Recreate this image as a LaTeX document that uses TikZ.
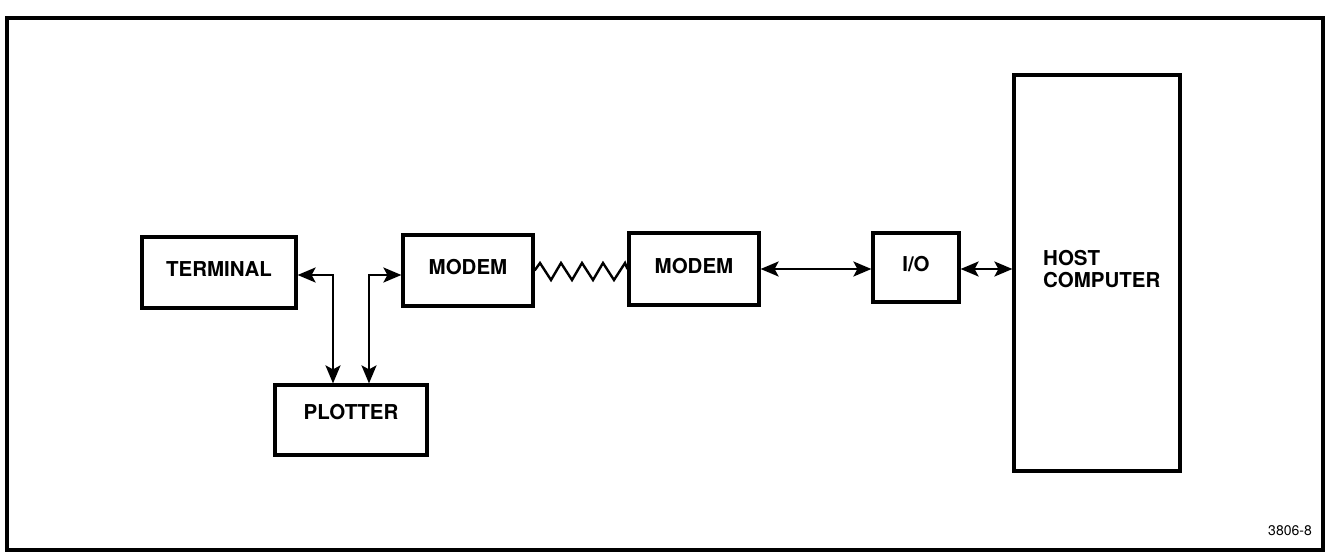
\documentclass[tikz,border=0pt]{standalone}
\usepackage{fontspec}
\setmainfont{TeX Gyre Heros}
\usetikzlibrary{arrows.meta,calc}
\begin{document}
\begin{tikzpicture}[x=1pt,y=-1pt,
  blk/.style={draw,line width=3.2pt,inner sep=0pt,font=\fontsize{20.5}{22}\selectfont\bfseries,text depth=7pt},
  tip/.style={Stealth[length=18pt,width=15pt,inset=4pt]},
  biarrow/.style={line width=2.3pt,{Stealth[length=18pt,width=15pt,inset=4pt]}-{Stealth[length=18pt,width=15pt,inset=4pt]}},
  wire/.style={line width=2.4pt,line join=miter}
]
\useasboundingbox (0,0) rectangle (1327,556);
\draw[line width=3.6pt] (7,18) rectangle (1323,550);

\node[blk,minimum width=154pt,minimum height=71pt] (term) at (219,272.5) {TERMINAL};
\node[blk,minimum width=152pt,minimum height=70pt,text depth=16pt] (plot) at (351,420) {PLOTTER};
\node[blk,minimum width=130pt,minimum height=71pt] (m1) at (468,270.5) {MODEM};
\node[blk,minimum width=130pt,minimum height=72pt] (m2) at (694,269) {MODEM};
\node[blk,minimum width=86pt,minimum height=69pt] (io) at (916,267.5) {I/O};
\node[draw,line width=3.2pt,minimum width=166pt,minimum height=396pt] (host) at (1097,273) {};
\node[anchor=north west,inner sep=0pt,align=left,font=\fontsize{20.5}{22}\selectfont\bfseries] (hostlbl) at (1043,250) {HOST\\COMPUTER};
\node[anchor=base east,inner sep=0pt,font=\fontsize{14}{16}\selectfont] (fig) at (1312,535) {3806-8};

\coordinate (c1) at (333,275);
\coordinate (c2) at (369,275);
\coordinate (r) at (0,269);

\draw[biarrow] (term.east |- c1) -- (c1) -- (c1 |- plot.north);
\draw[biarrow] (c2 |- plot.north) -- (c2) -- (m1.west |- c2);
\draw[biarrow] (m2.east |- r) -- (io.west |- r);
\draw[biarrow] (io.east |- r) -- (host.west |- r);

\draw[wire] (m1.east) -- (540,263) -- (551,280) -- (561,263) -- (572,280) -- (582,263)
  -- (593,280) -- (603,263) -- (614,280) -- (625,263) -- (m2.west);
\end{tikzpicture}
\end{document}
